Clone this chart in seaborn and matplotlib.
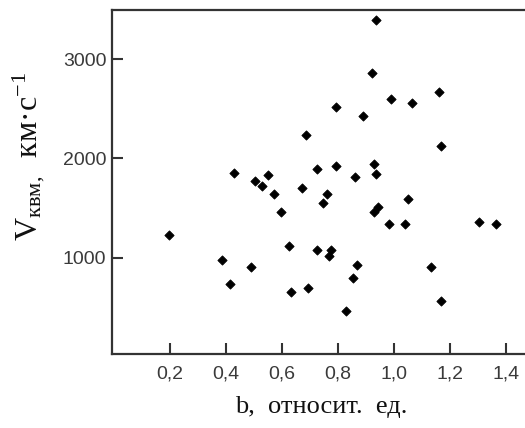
import matplotlib
matplotlib.use("Agg")
import matplotlib.pyplot as plt
from matplotlib.ticker import FixedLocator, FuncFormatter
import seaborn as sns
import pandas as pd

# values
b_values = [0.935, 0.920, 1.162, 0.989, 1.064, 0.792, 0.890, 0.687, 1.169,
            0.430, 0.724, 0.792, 0.928, 0.936, 0.551, 0.860, 0.505, 0.527,
            0.670, 0.573, 0.762, 0.746, 0.595, 0.929, 0.943, 1.049, 0.982,
            1.041, 1.304, 1.366, 0.195, 0.626, 0.724, 0.776, 0.768, 0.385,
            0.490, 0.867, 1.131, 0.853, 0.415, 0.694, 0.632, 1.168, 0.830]
v_values = [3390, 2860, 2670, 2600, 2560, 2520, 2430, 2240, 2130,
            1855, 1895, 1920, 1945, 1845, 1835, 1810, 1770, 1720,
            1700, 1640, 1640, 1555, 1465, 1460, 1510, 1595, 1335,
            1335, 1360, 1335, 1230, 1120, 1080, 1080, 1015, 975,
            905, 930, 905, 800, 735, 695, 650, 565, 460]
x_ticks = [0.2, 0.4, 0.6, 0.8, 1.0, 1.2, 1.4]
y_ticks = [1000, 2000, 3000]

df = pd.DataFrame({"b": b_values, "v": v_values})

sns.set_style("white")
plt.rcParams["font.family"] = ["Liberation Sans", "DejaVu Sans"]
plt.rcParams["mathtext.fontset"] = "custom"
plt.rcParams["mathtext.rm"] = "Liberation Serif"
plt.rcParams["mathtext.it"] = "Liberation Serif:italic"

W, H = 525, 428
fig = plt.figure(figsize=(W / 100, H / 100), dpi=100)
ax = fig.add_axes([112 / W, 1 - 354 / H, (W - 112) / W, (354 - 10) / H])

sns.scatterplot(data=df, x="b", y="v", marker="D", s=22, color="black",
                edgecolor="black", linewidth=0.6, ax=ax)

ax.set_xlim(-0.007, 1.468)
ax.set_ylim(30, 3495)
ax.xaxis.set_major_locator(FixedLocator(x_ticks))
ax.yaxis.set_major_locator(FixedLocator(y_ticks))
ax.xaxis.set_major_formatter(FuncFormatter(lambda v, p: f"{v:.1f}".replace(".", ",")))
ax.yaxis.set_major_formatter(FuncFormatter(lambda v, p: f"{int(v)}"))

# inward ticks on bottom and left only
ax.tick_params(axis="both", direction="in", length=8, width=1.5,
               color="#333333", labelsize=14, labelcolor="#3a3a3a",
               bottom=True, left=True, top=False, right=False)
ax.tick_params(axis="x", pad=8)
ax.tick_params(axis="y", pad=4)

for side in ["left", "bottom", "top"]:
    ax.spines[side].set_color("#333333")
    ax.spines[side].set_linewidth(1.6)
ax.spines["right"].set_visible(False)

ax.set_xlabel("")
ax.set_ylabel("")

fig.text(321 / W, 1 - 413 / H, "b,  относит.  ед.", family="Liberation Serif",
         fontsize=19, ha="center", va="baseline", color="#111111")
fig.text(29 / W, 1 - 156 / H, r"$\mathrm{V_{квм,}\ \ км·с^{-1}}$",
         fontsize=23, rotation=90, ha="center", va="center", color="#111111")

fig.savefig("out.png", dpi=100)
